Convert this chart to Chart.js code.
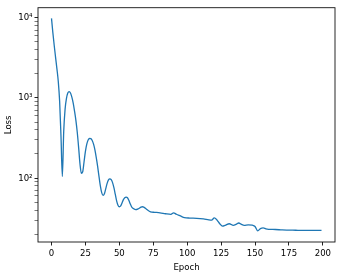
<!DOCTYPE html>
<html>
<head>
<meta charset="utf-8">
<script src="https://cdn.jsdelivr.net/npm/chart.js@4.4.0/dist/chart.umd.min.js"></script>
<style>
  html, body { margin: 0; padding: 0; background: #fff; }
  #wrap { width: 340px; height: 280px; }
</style>
</head>
<body>
<div id="wrap"><canvas id="lossChart"></canvas></div>
<script>
// dati (epoca, loss)
const epochs = [0, 1, 2, 3, 4, 5, 6, 7, 8, 9, 10, 11, 12, 13, 14, 15, 16, 17, 18, 19,
    20, 21, 22, 23, 24, 25, 26, 27, 28, 29, 30, 31, 32, 33, 34, 35, 36, 37, 38, 39,
    40, 41, 42, 43, 44, 45, 46, 47, 48, 49, 50, 51, 52, 53, 54, 55, 56, 57, 58, 59,
    60, 62, 64, 66, 67, 68, 70, 73, 76, 80, 84, 88, 90, 92, 95, 98, 102, 107, 112, 116,
    118, 120, 122, 124, 126, 128, 131, 134, 136, 138, 140, 142, 145, 148, 150, 152, 154, 156, 158, 160,
    165, 170, 175, 180, 185, 190, 195, 199];
const loss = [9800, 6500, 4500, 3200, 2300, 1600, 900, 330, 105, 380, 720, 980, 1150, 1200, 1150, 1020, 860, 680, 520, 370,
    240, 150, 115, 120, 160, 215, 265, 298, 312, 310, 295, 265, 225, 180, 140, 105, 80, 66, 61, 64,
    74, 86, 95, 98, 96, 88, 76, 63, 52, 46, 44, 45, 49, 54, 57, 58, 57, 53, 48, 44,
    42, 40.5, 41.5, 43.5, 44, 43.5, 41, 38, 37.5, 37, 36, 35.3, 37, 35.5, 33.8, 32.2, 31.8, 31.6, 31, 30.2,
    30, 32, 30, 27, 25.2, 25.8, 27, 25.8, 26.5, 27.6, 26.5, 25.8, 26.2, 25.9, 25, 22, 23.5, 24, 23.3, 23,
    22.9, 22.6, 22.5, 22.4, 22.3, 22.3, 22.3, 22.3];

const xTicks = [0, 25, 50, 75, 100, 125, 150, 175, 200];
const yTicks = [20, 30, 40, 50, 60, 70, 80, 90,
    100, 200, 300, 400, 500, 600, 700, 800, 900,
    1000, 2000, 3000, 4000, 5000, 6000, 7000, 8000, 9000, 10000];
const yLabels = { 100: '10²', 1000: '10³', 10000: '10⁴' };

const fontFamily = "'Liberation Sans Narrow', 'DejaVu Sans Condensed', 'DejaVu Sans', sans-serif";
const tickFont = { family: fontFamily, size: 9.5 };

// cornice completa come in matplotlib
const boxPlugin = {
    id: 'box',
    afterDraw(chart) {
        const { ctx, chartArea: a } = chart;
        ctx.save();
        ctx.strokeStyle = '#111';
        ctx.lineWidth = 0.9;
        ctx.strokeRect(a.left, a.top, a.right - a.left, a.bottom - a.top);
        ctx.restore();
    }
};

new Chart(document.getElementById('lossChart'), {
    type: 'line',
    data: {
        datasets: [{
            data: epochs.map((e, i) => ({ x: e, y: loss[i] })),
            borderColor: '#1f77b4',
            borderWidth: 1.3,
            pointRadius: 0,
            cubicInterpolationMode: 'monotone',
            fill: false
        }]
    },
    options: {
        responsive: true,
        maintainAspectRatio: false,
        animation: false,
        layout: { padding: { top: 6, right: 5, left: 0, bottom: 0 } },
        plugins: { legend: { display: false }, tooltip: { enabled: false } },
        scales: {
            x: {
                type: 'linear',
                min: -9.95,
                max: 208.95,
                afterBuildTicks: s => { s.ticks = xTicks.map(v => ({ value: v })); },
                afterFit: s => { s.height = 38; },
                grid: { drawOnChartArea: false, drawTicks: true, tickLength: 3.5, tickColor: '#222' },
                border: { display: false },
                ticks: { color: '#000', font: tickFont, padding: 2, maxRotation: 0, autoSkip: false },
                title: { display: true, text: 'Epoch', color: '#000', font: tickFont, padding: { top: 0, bottom: 7 } }
            },
            y: {
                type: 'logarithmic',
                min: 16,
                max: 13300,
                afterBuildTicks: s => { s.ticks = yTicks.map(v => ({ value: v, major: !!yLabels[v] })); },
                afterFit: s => { s.width = 38; },
                grid: {
                    drawOnChartArea: false, drawTicks: true, tickLength: 3.5,
                    tickColor: '#222',
                    tickWidth: c => (c.tick && yLabels[c.tick.value] ? 1 : 0.6)
                },
                border: { display: false },
                ticks: {
                    color: '#000', font: tickFont, padding: 2, autoSkip: false,
                    callback: v => yLabels[v] || ''
                },
                title: { display: true, text: 'Loss', color: '#000', font: tickFont, padding: { top: 3, bottom: 0 } }
            }
        }
    },
    plugins: [boxPlugin]
});
</script>
</body>
</html>
